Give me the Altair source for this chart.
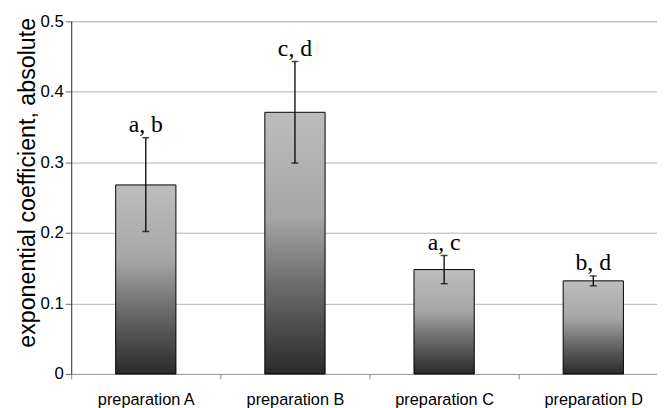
import altair as alt
import pandas as pd

categories = ["preparation A", "preparation B", "preparation C", "preparation D"]
means = [0.268, 0.371, 0.148, 0.132]
err_low = [0.202, 0.299, 0.128, 0.125]
err_high = [0.335, 0.443, 0.168, 0.139]
letters = ["a, b", "c, d", "a, c", "b, d"]

df = pd.DataFrame({
    "prep": categories,
    "mean": means,
    "lo": err_low,
    "hi": err_high,
    "label": letters,
})

xscale = alt.Scale(domain=categories, range=[0, 604], paddingInner=0, paddingOuter=0)
yscale = alt.Scale(domain=[0, 0.5], nice=False)

x = alt.X("prep:N", scale=xscale, sort=categories, title=None,
          axis=alt.Axis(labelAngle=0, labelFont="Liberation Sans", labelFontSize=16.5,
                        labelColor="black", labelPadding=13, tickBand="extent",
                        tickSize=5, tickColor="#888888", domainColor="#999999",
                        grid=False))

gradient = alt.Gradient(
    gradient="linear",
    stops=[
        alt.GradientStop(color="#bdbdbd", offset=0),
        alt.GradientStop(color="#a6a6a6", offset=0.4),
        alt.GradientStop(color="#6e6e6e", offset=0.65),
        alt.GradientStop(color="#2a2a2a", offset=1),
    ],
    x1=0, x2=0, y1=0, y2=1,
)

bars = alt.Chart(df).mark_bar(width=61, fill=gradient, stroke="black", strokeWidth=1).encode(
    x=x,
    y=alt.Y("mean:Q", scale=yscale,
            title="exponential coefficient, absolute",
            axis=alt.Axis(values=[0, 0.1, 0.2, 0.3, 0.4, 0.5], format=".1~f",
                          labelFont="Liberation Sans", labelFontSize=17, labelColor="black",
                          labelPadding=2, tickSize=6, tickColor="#666666",
                          domainColor="#333333", gridColor="#b4b4b4", gridWidth=1,
                          titleFont="Liberation Sans", titleFontSize=23.5,
                          titleFontWeight="normal", titleColor="black", titlePadding=1,
                          titleY=163)),
)

rules = alt.Chart(df).mark_rule(color="black", strokeWidth=1.3).encode(
    x=alt.X("prep:N", scale=xscale, sort=categories),
    y=alt.Y("lo:Q", scale=yscale),
    y2="hi:Q",
)

caps_lo = alt.Chart(df).mark_tick(color="black", size=7, thickness=1.5, orient="horizontal").encode(
    x=alt.X("prep:N", scale=xscale, sort=categories),
    y=alt.Y("lo:Q", scale=yscale),
)
caps_hi = alt.Chart(df).mark_tick(color="black", size=7, thickness=1.5, orient="horizontal").encode(
    x=alt.X("prep:N", scale=xscale, sort=categories),
    y=alt.Y("hi:Q", scale=yscale),
)

texts = alt.Chart(df).mark_text(font="Liberation Serif", fontSize=24, color="black",
                                baseline="alphabetic", align="center", dy=-6).encode(
    x=alt.X("prep:N", scale=xscale, sort=categories),
    y=alt.Y("hi:Q", scale=yscale),
    text="label:N",
)

chart = alt.layer(bars, rules, caps_lo, caps_hi, texts).properties(
    width=593,
    height=357,
    autosize=alt.AutoSizeParams(type="none"),
    padding={"left": 64, "top": 11, "right": 0, "bottom": 32},
).configure_view(stroke=None).configure(background="white")

chart.save("out.html", embed_options={"renderer": "svg", "actions": False})
